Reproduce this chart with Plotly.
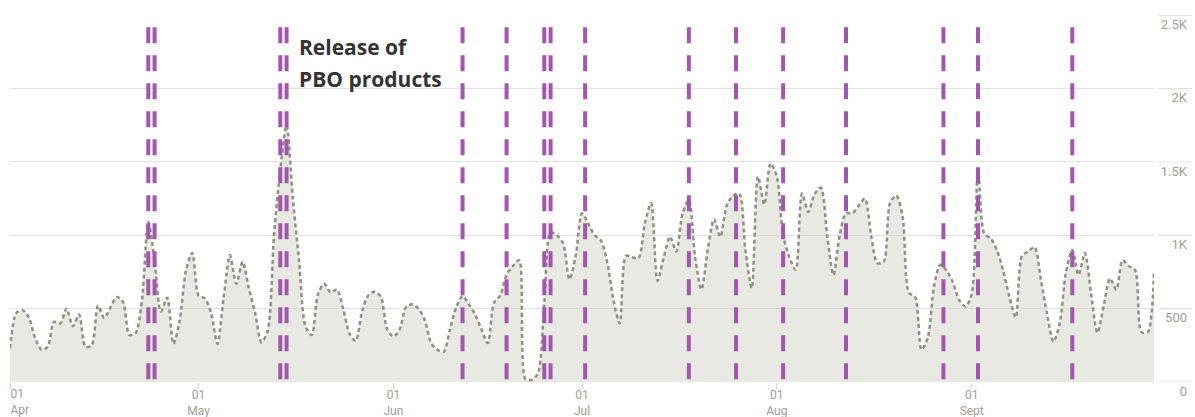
import pandas as pd
import plotly.graph_objects as go

# ---- data ----
apr_values = [230, 470, 490, 440, 300, 220, 240, 410, 400, 500, 380, 460, 240, 250, 520,
              436, 510, 580, 545, 320, 335, 560, 1090, 830, 480, 575, 260, 420, 760, 880]
may_values = [590, 570, 470, 260, 580, 865, 670, 820, 640, 470, 270, 350, 1000, 1450, 1750,
              1250, 820, 380, 320, 600, 670, 610, 630, 500, 330, 280, 480, 590, 615, 580, 360]
jun_values = [310, 360, 510, 530, 500, 420, 265, 220, 206, 360, 510, 586, 530, 460, 360,
              265, 540, 590, 730, 790, 830, 20, 15, 60, 540, 1020, 1000, 946, 700, 860]
jul_values = [1150, 1080, 1000, 965, 820, 560, 400, 860, 850, 845, 1080, 1220, 690, 850, 990,
              890, 1150, 1240, 850, 630, 900, 1110, 990, 1200, 1270, 1285, 900, 640, 1400, 1210, 1490]
aug_values = [1400, 1000, 850, 765, 1285, 1160, 1280, 1325, 1000, 730, 1000, 1150, 1150, 1200, 1250,
              1000, 810, 820, 1220, 1270, 1130, 610, 580, 220, 300, 650, 800, 760, 680, 560, 515]
sep_values = [600, 1450, 1010, 980, 900, 760, 580, 440, 860, 890, 920, 700, 460, 275, 400,
              750, 900, 730, 880, 600, 335, 520, 706, 630, 830, 790, 763, 340, 340, 750]

start_date = "2023-04-01"
end_date = "2023-09-30"

release_dates = ["2023-04-23", "2023-04-24", "2023-05-14", "2023-05-15", "2023-06-12",
                 "2023-06-19", "2023-06-25", "2023-06-26", "2023-07-01 12:00", "2023-07-18",
                 "2023-07-25 12:00", "2023-08-02", "2023-08-12", "2023-08-27 12:00",
                 "2023-09-02", "2023-09-17"]

month_ticks = ["2023-04-01", "2023-05-01", "2023-06-01", "2023-07-01", "2023-08-01", "2023-09-01"]
month_labels = ["01<br>Apr", "01<br>May", "01<br>Jun", "01<br>Jul", "01<br>Aug", "01<br>Sept"]

y_ticks = [0, 500, 1000, 1500, 2000, 2500]
y_labels = ["0", "500", "1K", "1.5K", "2K", "2.5K"]

annotation_lines = ["Release of", "PBO products"]
annotation_x = "2023-05-16 16:00"
annotation_y = [2282, 2064]

values = apr_values + may_values + jun_values + jul_values + aug_values + sep_values
dates = pd.date_range(start_date, end_date, freq="D")

# ---- styles ----
GRID = "#e3e3dd"
TICKFONT = dict(family="Roboto", size=13, color="#a0a092")
XTICKFONT = dict(family="Roboto", size=12, color="#a0a092")
PURPLE = "#a157ab"
X_DOMAIN = [0, 1144 / 1182]

fig = go.Figure()
fig.add_trace(go.Scatter(
    x=dates, y=values, mode="lines",
    line=dict(color="#8f8f82", width=2.5, dash="4px,3px", shape="spline", smoothing=0.8),
    fill="tozeroy", fillcolor="rgba(212,212,202,0.5)",
    hoverinfo="skip", showlegend=False,
))
# empty helper trace so the overlaying axis (first month label, left-aligned) is drawn
fig.add_trace(go.Scatter(x=[start_date], y=[None], xaxis="x2", mode="lines",
                         hoverinfo="skip", showlegend=False))

for d in release_dates:
    fig.add_shape(type="line", xref="x", yref="y", x0=d, x1=d, y0=2418, y1=0,
                  line=dict(color=PURPLE, width=4, dash="16px,12px"), layer="above")

# short rule segments above the right-hand value labels
for v in y_ticks:
    fig.add_shape(type="line", xref="paper", yref="y", x0=1148 / 1182, x1=1.0, y0=v, y1=v,
                  line=dict(color=GRID, width=1.2), layer="below")

for line_text, ay in zip(annotation_lines, annotation_y):
    fig.add_annotation(x=annotation_x, y=ay, xref="x", yref="y", text=line_text,
                       showarrow=False, xanchor="left", yanchor="middle",
                       font=dict(family="Open Sans", size=21, color="#333333", weight="bold"))

common_x = dict(
    domain=X_DOMAIN, range=[start_date, end_date], tickmode="array",
    ticks="outside", ticklen=6, tickcolor="#d8d8d0",
    showgrid=False, zeroline=False, showline=False,
    tickfont=XTICKFONT, automargin=False,
)

fig.update_layout(
    width=1195, height=417,
    margin=dict(l=10, r=3, t=15, b=35),
    paper_bgcolor="white", plot_bgcolor="white",
    xaxis=dict(common_x, tickvals=month_ticks[1:], ticktext=month_labels[1:],
               ticklabelstandoff=-4),
    xaxis2=dict(common_x, tickvals=month_ticks[:1], ticktext=month_labels[:1],
                overlaying="x", anchor="y", side="bottom",
                ticklabelposition="outside right", ticklabelstandoff=1),
    yaxis=dict(
        range=[0, 2502], side="right", anchor="free", position=1.0,
        tickmode="array", tickvals=y_ticks, ticktext=y_labels,
        showgrid=True, gridcolor=GRID, gridwidth=1.2,
        zeroline=False, showline=False,
        ticks="", ticklabelposition="inside", ticklabelshift=9, ticklabelstandoff=2,
        tickfont=TICKFONT, automargin=False, ticklabeloverflow="allow",
    ),
)

fig.write_html("out.html", config={"displayModeBar": False},
               post_script="document.body.style.margin='0';")
